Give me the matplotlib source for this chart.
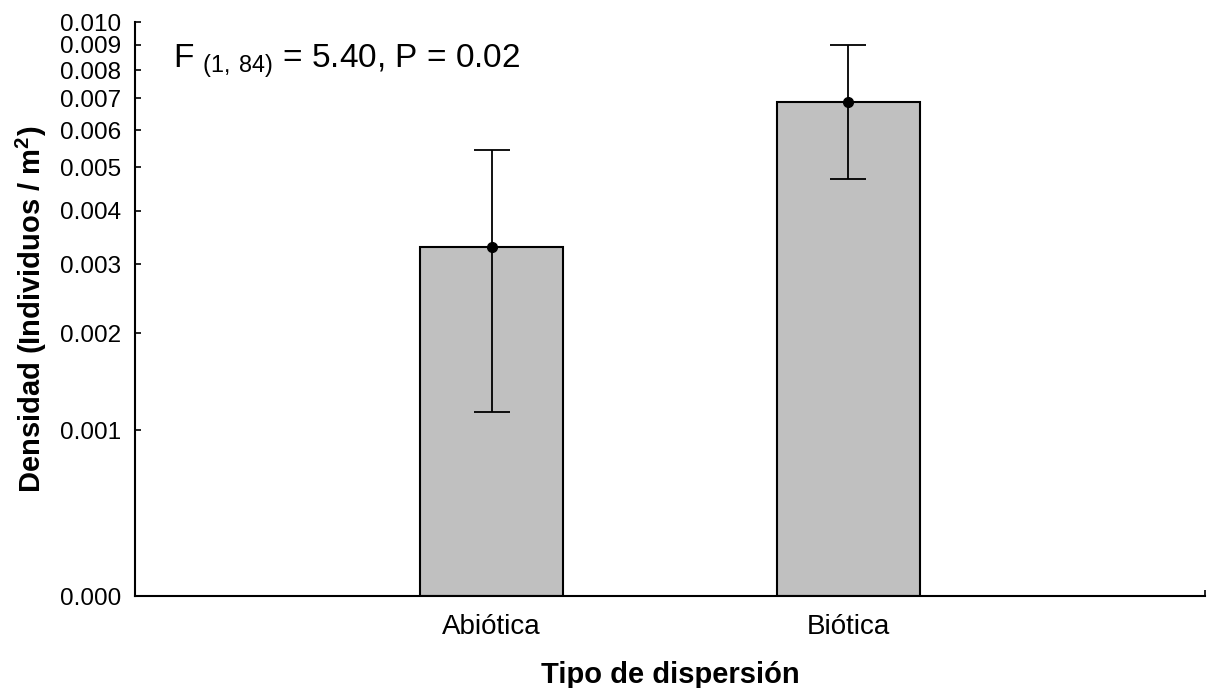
import matplotlib
matplotlib.use("Agg")
import matplotlib.pyplot as plt
import numpy as np

plt.rcParams['font.family'] = ['Liberation Sans', 'DejaVu Sans']
plt.rcParams['mathtext.fontset'] = 'custom'
plt.rcParams['mathtext.rm'] = 'Liberation Sans'
plt.rcParams['mathtext.bf'] = 'Liberation Sans:bold'

# data
categories = ['Abiótica', 'Biótica']
means = [0.0033, 0.00687]
upper = [0.00544, 0.0090]
lower = [0.00116, 0.00471]
yticks = [0.000, 0.001, 0.002, 0.003, 0.004, 0.005, 0.006, 0.007, 0.008, 0.009, 0.010]


def forward(y):
    return np.log(np.clip(np.asarray(y) * 1000 + 1, 1e-9, None))


def inverse(v):
    return (np.exp(v) - 1) / 1000


fig = plt.figure(figsize=(12.08, 6.88), dpi=100)
ax = fig.add_axes([0.1118, 0.1337, 0.8857, 0.8343])

x = np.arange(len(categories))
ax.bar(x, means, width=0.4, color='#c0c0c0', edgecolor='black', linewidth=1.5, zorder=2)
err = [np.array(means) - np.array(lower), np.array(upper) - np.array(means)]
ax.errorbar(x, means, yerr=err, fmt='o', color='black', ms=7, elinewidth=1.3,
            capsize=13, capthick=1.3, zorder=3)

ax.set_yscale('function', functions=(forward, inverse))
ax.set_ylim(0, 0.010)
ax.set_yticks(yticks)
ax.set_yticklabels(['%.3f' % t for t in yticks])
ax.set_xlim(-1, 2)
ax.set_xticks([-1, 0, 1, 2])
ax.set_xticklabels([''] + categories + [''])
ax.minorticks_off()

for s in ['top', 'right']:
    ax.spines[s].set_visible(False)
for s in ['left', 'bottom']:
    ax.spines[s].set_linewidth(1.5)

ax.tick_params(axis='y', direction='in', length=4, width=1.2, labelsize=17.5, pad=10)
ax.tick_params(axis='x', direction='in', length=4, width=1.2, labelsize=20, pad=13)

ax.set_xlabel('Tipo de dispersión', fontsize=21, fontweight='bold', labelpad=15)
ax.set_ylabel(r'Densidad (Individuos / m$\mathbf{^2}$)', fontsize=21,
              fontweight='bold', labelpad=8)

ax.text(0.035, 0.965, r'F $_{(1,\,84)}$ = 5.40, P = 0.02', transform=ax.transAxes,
        fontsize=24, va='top', ha='left')

fig.savefig('out.png', dpi=100)
